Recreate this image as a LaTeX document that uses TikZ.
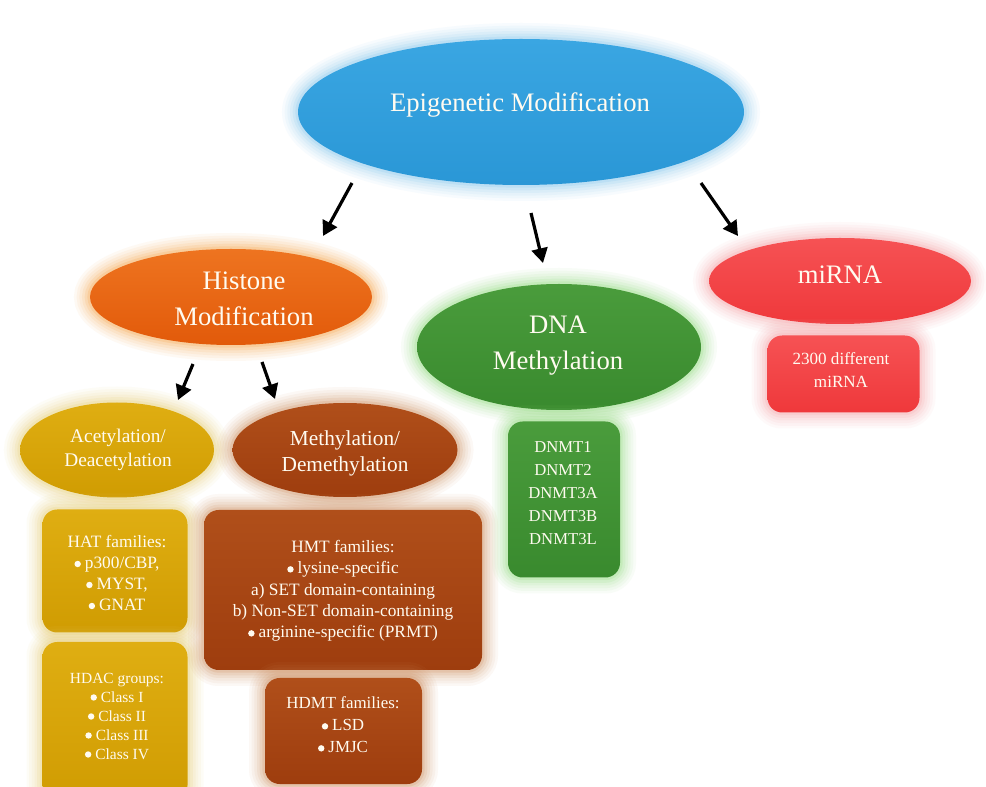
\documentclass[tikz,border=0pt]{standalone}
\usepackage{fontspec}
\setmainfont{Liberation Serif}
\usetikzlibrary{shapes.geometric,arrows.meta}
\definecolor{blueB}{HTML}{2A97D6}\definecolor{blueT}{HTML}{3AA6E2}\definecolor{blueG}{HTML}{7CC3EE}
\definecolor{orB}{HTML}{E25A0A}\definecolor{orT}{HTML}{EE7420}\definecolor{orG}{HTML}{F7A040}
\definecolor{grB}{HTML}{398A2E}\definecolor{grT}{HTML}{4A9C3C}\definecolor{grG}{HTML}{8FDB7A}
\definecolor{rdB}{HTML}{EF383B}\definecolor{rdT}{HTML}{F65254}\definecolor{rdG}{HTML}{F8A0A4}
\definecolor{gdB}{HTML}{D09C02}\definecolor{gdT}{HTML}{DFAE12}\definecolor{gdG}{HTML}{E8CC70}
\definecolor{brB}{HTML}{9E3D0E}\definecolor{brT}{HTML}{B04F1A}\definecolor{brG}{HTML}{CC8A5A}
\definecolor{txt}{HTML}{FFFBF0}
\newcommand{\bul}{\tikz[baseline=-3.4pt,x=1pt,y=1pt]\fill[txt] (0,0) circle [radius=2.4pt];\hspace{3pt}}
\tikzset{
  glow/.style={preaction={draw=#1,line width=24pt,draw opacity=0.06},
               preaction={draw=#1,line width=20pt,draw opacity=0.07},
               preaction={draw=#1,line width=16pt,draw opacity=0.08},
               preaction={draw=#1,line width=12pt,draw opacity=0.10},
               preaction={draw=#1,line width=8pt,draw opacity=0.14},
               preaction={draw=#1,line width=4pt,draw opacity=0.2}},
  ell/.style={ellipse,inner sep=0pt,draw=none},
  rbox/.style={rectangle,rounded corners=11pt,inner sep=0pt,draw=none},
  lbl/.style={text=txt,align=center,inner sep=0pt},
  arr/.style={-{Triangle[length=11pt,width=12pt]},line width=2.4pt,black},
}
\begin{document}
\begin{tikzpicture}[x=0.75pt,y=-0.75pt]
\useasboundingbox[fill=white] (0,0) rectangle (986,787);
% ellipses
\node[ell,glow=blueG,top color=blueT,bottom color=blueB,minimum width=334.5pt,minimum height=109.5pt] (epi) at (521,112) {};
\node[ell,glow=orG,top color=orT,bottom color=orB,minimum width=211.5pt,minimum height=72pt] (hist) at (231,297) {};
\node[ell,glow=grG,top color=grT,bottom color=grB,minimum width=213pt,minimum height=94.5pt] (dna) at (559,347) {};
\node[ell,glow=rdG,top color=rdT,bottom color=rdB,minimum width=196.5pt,minimum height=64.5pt] (mir) at (840,281) {};
\node[ell,glow=gdG,top color=gdT,bottom color=gdB,minimum width=145.5pt,minimum height=71.25pt] (acet) at (117,450) {};
\node[ell,glow=brG,top color=brT,bottom color=brB,minimum width=168.75pt,minimum height=70.5pt] (meth) at (345,450) {};
% boxes
\node[rbox,glow=gdG,top color=gdT,bottom color=gdB,minimum width=108.75pt,minimum height=92.25pt] (hat) at (115,571) {};
\node[rbox,glow=gdG,top color=gdT,bottom color=gdB,minimum width=108.75pt,minimum height=118.5pt] (hdac) at (115,721) {};
\node[rbox,glow=brG,top color=brT,bottom color=brB,minimum width=208.5pt,minimum height=120pt] (hmt) at (343,590) {};
\node[rbox,glow=brG,top color=brT,bottom color=brB,minimum width=117.75pt,minimum height=79.5pt] (hdmt) at (343.5,731) {};
\node[rbox,glow=grG,top color=grT,bottom color=grB,minimum width=84pt,minimum height=117pt] (dnmt) at (564,499.5) {};
\node[rbox,glow=rdG,top color=rdT,bottom color=rdB,minimum width=114pt,minimum height=57.75pt] (mirbox) at (843.5,374) {};
% texts
\node[lbl,font=\fontsize{20}{24}\selectfont] (t-epi) at (520,105) {Epigenetic Modification};
\node[lbl,font=\fontsize{20}{27}\selectfont] (t-hist) at (244,299) {Histone\\Modification};
\node[lbl,font=\fontsize{20}{27}\selectfont] (t-dna) at (558,346) {DNA\\Methylation};
\node[lbl,font=\fontsize{20}{24}\selectfont] (t-mir) at (840,275) {miRNA};
\node[lbl,font=\fontsize{14.5}{18}\selectfont] (t-acet) at (118,450) {Acetylation/\\Deacetylation};
\node[lbl,font=\fontsize{16}{19.5}\selectfont] (t-meth) at (345,453) {Methylation/\\Demethylation};
\node[lbl,font=\fontsize{13}{15.75}\selectfont] (t-hat) at (117,573) {HAT families:\\\bul p300/CBP,\\\bul MYST,\\\bul GNAT};
\node[lbl,font=\fontsize{11.6}{14.25}\selectfont] (t-hdac) at (117,716) {HDAC groups:\\\bul Class I\\\bul Class II\\\bul Class III\\\bul Class IV};
\node[lbl,font=\fontsize{13}{16}\selectfont] (t-hmt) at (343,591) {HMT families:\\\bul lysine-specific\\a) SET domain-containing\\b) Non-SET domain-containing\\\bul arginine-specific (PRMT)};
\node[lbl,font=\fontsize{12.7}{16.5}\selectfont] (t-hdmt) at (343,725) {HDMT families:\\\bul LSD\\\bul JMJC};
\node[lbl,font=\fontsize{12.5}{17.25}\selectfont] (t-dnmt) at (563,493) {DNMT1\\DNMT2\\DNMT3A\\DNMT3B\\DNMT3L};
\node[lbl,font=\fontsize{12.8}{17.25}\selectfont] (t-mirbox) at (841,370) {2300 different\\miRNA};
% arrows
\coordinate (a1s) at (352,183); \coordinate (a1e) at (323,236);
\coordinate (a2s) at (531,213); \coordinate (a2e) at (543,263);
\coordinate (a3s) at (701,183); \coordinate (a3e) at (738,236);
\coordinate (a4s) at (193,364); \coordinate (a4e) at (178,400);
\coordinate (a5s) at (262,362); \coordinate (a5e) at (275,399);
\draw[arr] (a1s) -- (a1e);
\draw[arr] (a2s) -- (a2e);
\draw[arr] (a3s) -- (a3e);
\draw[arr] (a4s) -- (a4e);
\draw[arr] (a5s) -- (a5e);
\end{tikzpicture}
\end{document}
